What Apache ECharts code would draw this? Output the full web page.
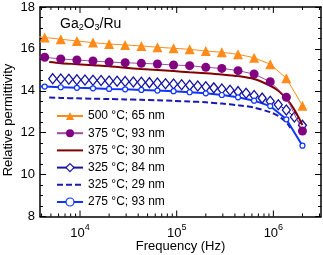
<!DOCTYPE html>
<html><head><meta charset="utf-8">
<script src="https://cdn.jsdelivr.net/npm/echarts@6/dist/echarts.min.js"></script>
<style>html,body{margin:0;padding:0;background:#fff}#c{width:323px;height:255px}</style>
</head><body><div id="c"></div>
<script>
// ---- data ----
const seriesNames = ['500 °C; 65 nm','375 °C; 93 nm','375 °C; 30 nm','325 °C; 84 nm','325 °C; 29 nm','275 °C; 93 nm'];
const freqGrid = [2930, 4310, 6320, 9280, 13620, 20000, 29300, 43100, 63200, 92800, 136200, 200000, 293000, 431000, 632000, 928000, 1362000, 2000000];
const eps500_65 = [16.62, 16.55, 16.46, 16.38, 16.30, 16.23, 16.19, 16.14, 16.08, 16.03, 15.98, 15.90, 15.84, 15.74, 15.58, 15.27, 14.60, 13.29];
const eps375_93 = [15.65, 15.60, 15.52, 15.47, 15.42, 15.37, 15.34, 15.31, 15.28, 15.23, 15.20, 15.12, 15.07, 14.96, 14.80, 14.43, 13.69, 12.08];
const eps275_93 = [14.23, 14.20, 14.17, 14.14, 14.12, 14.09, 14.07, 14.04, 14.01, 13.98, 13.93, 13.88, 13.80, 13.69, 13.53, 13.27, 12.64, 11.38];
const freq375_30 = [4800, 6320, 9280, 13620, 20000, 29300, 43100, 63200, 92800, 136200, 200000, 293000, 431000, 632000, 928000, 1125000, 1362000, 1651000, 2000000];
const eps375_30 = [15.37, 15.32, 15.27, 15.22, 15.17, 15.10, 15.04, 14.99, 14.94, 14.89, 14.84, 14.78, 14.70, 14.56, 14.24, 14.00, 13.62, 13.10, 12.37];
const freq325_29 = [4800, 6320, 9280, 13620, 20000, 29300, 43100, 63200, 92800, 136200, 200000, 293000, 431000, 632000, 928000, 1125000, 1362000, 1500000];
const eps325_29 = [13.68, 13.66, 13.64, 13.62, 13.61, 13.59, 13.57, 13.55, 13.52, 13.49, 13.45, 13.39, 13.31, 13.20, 12.98, 12.80, 12.50, 12.22];
const freq325_84 = [5220, 6320, 7660, 9280, 11250, 13620, 16510, 20000, 24200, 29300, 35600, 43100, 52200, 63200, 76600, 92800, 112500, 136200, 165100, 200000, 242000, 293000, 356000, 431000, 522000, 632000, 766000, 928000, 1125000, 1362000, 1651000, 2000000];
const eps325_84 = [14.58, 14.56, 14.55, 14.53, 14.52, 14.50, 14.49, 14.47, 14.46, 14.44, 14.42, 14.41, 14.39, 14.37, 14.34, 14.32, 14.29, 14.26, 14.23, 14.19, 14.14, 14.09, 14.03, 13.96, 13.88, 13.78, 13.65, 13.50, 13.33, 13.08, 12.75, 12.35];
const xMajorTicks = [1e4, 1e5, 1e6];
const xMinorTicks = [4000,5000,6000,7000,8000,9000,20000,30000,40000,50000,60000,70000,80000,90000,200000,300000,400000,500000,600000,700000,800000,900000,2000000,3000000];
const xMin = 3855, xMax = 3110000;
const yMin = 8, yMax = 18, yStep = 2;

// ---- chart ----
const FONT = "'Liberation Sans', Arial, sans-serif";
const pair = (xs, ys) => xs.map((x, i) => [x, ys[i]]);
const chart = echarts.init(document.getElementById('c'), null, {renderer: 'canvas'});

const lineAxis = {show: true, lineStyle: {color: '#000', width: 1.5}};
function xAx(pos, showLabel) {
  return {
    type: 'log', logBase: 10, min: xMin, max: xMax, position: pos,
    axisLine: lineAxis,
    axisTick: {show: false},
    axisLabel: showLabel ? {
      show: true, margin: 7, showMinLabel: false, showMaxLabel: false,
      formatter: v => {
        const e = Math.log10(v);
        if (Math.abs(e - Math.round(e)) > 1e-6) return '';
        return '{b|10}{s|' + Math.round(e) + '}';
      },
      rich: {b: {fontSize: 13, fontFamily: FONT, color: '#000', lineHeight: 16, verticalAlign: 'bottom'},
             s: {fontSize: 9, fontFamily: FONT, color: '#000', lineHeight: 16, verticalAlign: 'top', padding: [0,0,6,0]}}
    } : {show: false},
    splitLine: {show: false}, minorTick: {show: false}
  };
}
function yAx(pos, showLabel) {
  return {
    type: 'value', min: yMin, max: yMax, interval: yStep, position: pos,
    axisLine: lineAxis,
    axisTick: {show: true, inside: true, length: 6, lineStyle: {color: '#000', width: 1}},
    minorTick: {show: true, splitNumber: 4, length: 3, lineStyle: {color: '#000', width: 1}},
    axisLabel: showLabel ? {show: true, fontSize: 13, fontFamily: FONT, color: '#000', margin: 5} : {show: false},
    splitLine: {show: false}
  };
}
function tickSeries(ticks, len) {
  return {
    type: 'custom', silent: true, z: 10, clip: false, legendHoverLink: false,
    data: ticks.map(v => [v, yMin]),
    encode: {x: 0, y: 1},
    renderItem: (params, api) => {
      const b = api.coord([api.value(0), yMin]);
      const t = api.coord([api.value(0), yMax]);
      const st = {stroke: '#000', lineWidth: 1};
      return {type: 'group', children: [
        {type: 'line', shape: {x1: b[0], y1: b[1], x2: b[0], y2: b[1] - len}, style: st},
        {type: 'line', shape: {x1: t[0], y1: t[1], x2: t[0], y2: t[1] + len}, style: st}
      ]};
    }
  };
}

const legendItems = seriesNames.map((n, i) => {
  if (i === 2 || i === 4) return {name: n, itemStyle: {opacity: 0}};
  if (i === 3) return {name: n, itemStyle: {color: '#fff', borderColor: '#1414a0', borderWidth: 1.2}};
  if (i === 5) return {name: n, itemStyle: {color: '#fff', borderColor: '#1034ff', borderWidth: 1.2}};
  return {name: n};
});

const option = {
  animation: false,
  grid: {left: 40, right: 2, top: 7, bottom: 38.5, containLabel: false},
  xAxis: [xAx('bottom', true), xAx('top', false)],
  yAxis: [yAx('left', true), yAx('right', false)],
  legend: {
    orient: 'vertical', left: 56, top: 110, padding: 0, itemWidth: 26, itemHeight: 10, itemGap: 5.2,
    textStyle: {fontSize: 12, fontFamily: FONT, color: '#000', lineHeight: 10},
    data: legendItems
  },
  series: [
    {name: seriesNames[0], type: 'line', data: pair(freqGrid, eps500_65), symbol: 'triangle', symbolSize: 10,
     lineStyle: {color: '#ff8c1a', width: 1}, itemStyle: {color: '#ff8c1a'}, z: 6},
    {name: seriesNames[1], type: 'line', data: pair(freqGrid, eps375_93), symbol: 'circle', symbolSize: 9,
     lineStyle: {color: '#a04aa0', width: 1}, itemStyle: {color: '#800080'}, z: 5},
    {name: seriesNames[2], type: 'line', data: pair(freq375_30, eps375_30), symbol: 'none', smooth: 0.3,
     lineStyle: {color: '#800000', width: 2}, itemStyle: {color: '#800000'}, z: 4},
    {name: seriesNames[3], type: 'line', data: pair(freq325_84, eps325_84), symbol: 'diamond', symbolSize: [8, 10],
     lineStyle: {color: '#1414a0', width: 1}, itemStyle: {color: '#fff', borderColor: '#1414a0', borderWidth: 1.3}, z: 3},
    {name: seriesNames[4], type: 'line', data: pair(freq325_29, eps325_29), symbol: 'none', smooth: 0.3,
     lineStyle: {color: '#1a1ab0', width: 2, type: [6, 3]}, itemStyle: {color: '#1a1ab0'}, z: 2},
    {name: seriesNames[5], type: 'line', data: pair(freqGrid, eps275_93), symbol: 'circle', symbolSize: 5,
     lineStyle: {color: '#1034ff', width: 2}, itemStyle: {color: '#fff', borderColor: '#1034ff', borderWidth: 1.2}, z: 3},
    tickSeries(xMajorTicks, 6),
    tickSeries(xMinorTicks, 3)
  ],
  graphic: [
    {type: 'text', left: 60, top: 17, style: {
      text: 'Ga{sub|2}O{sub|3}/Ru', font: '14px ' + FONT, fill: '#000',
      rich: {sub: {fontSize: 9, fontFamily: FONT, fill: '#000', verticalAlign: 'bottom', padding: [7,0,0,0]}}}},
    {type: 'text', x: 180.5, y: 246, style: {text: 'Frequency (Hz)', font: '13px ' + FONT, fill: '#000', align: 'center', verticalAlign: 'middle'}},
    {type: 'text', x: 8, y: 120, rotation: Math.PI / 2, style: {text: 'Relative permittivity', font: '13px ' + FONT, fill: '#000', align: 'center', verticalAlign: 'middle'}}
  ]
};
chart.setOption(option);
</script></body></html>
